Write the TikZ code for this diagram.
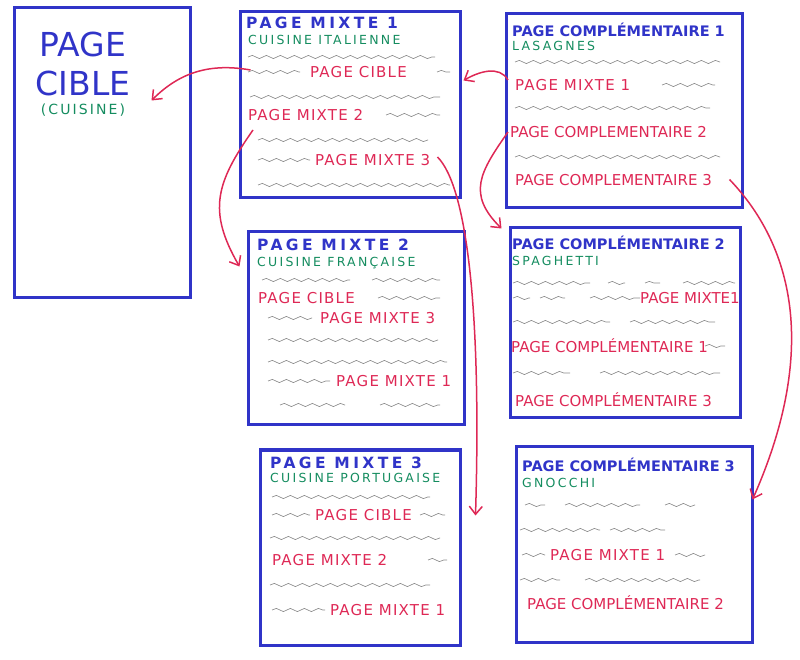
\documentclass[tikz,border=0pt]{standalone}
\usepackage{fontspec}
\setmainfont{DejaVu Sans}
\usepackage{tikz}
\usetikzlibrary{arrows.meta,positioning,calc,decorations.pathmorphing}
\definecolor{pgblue}{RGB}{48,52,200}
\definecolor{pggreen}{RGB}{20,140,95}
\definecolor{pgred}{RGB}{222,40,85}
\definecolor{pggrey}{RGB}{140,140,140}
\tikzstyle{pagebox} = [rectangle, draw=pgblue, line width=3pt, inner sep=0pt]
\tikzstyle{pagetitle} = [anchor=west, inner sep=0pt, text=pgblue, font=\bfseries\fontsize{14.5}{17}\selectfont]
\tikzstyle{mixtitle} = [pagetitle, font=\bfseries\fontsize{15.5}{17}\selectfont\addfontfeature{LetterSpace=22}]
\tikzstyle{topic} = [anchor=west, inner sep=0pt, text=pggreen, font=\fontsize{12.5}{14}\selectfont\addfontfeature{LetterSpace=18}]
\tikzstyle{linkref} = [anchor=west, inner sep=0pt, text=pgred, font=\fontsize{15}{17}\selectfont]
\tikzstyle{widelink} = [linkref, font=\fontsize{15}{17}\selectfont\addfontfeature{LetterSpace=8}]
\tikzstyle{wave} = [draw=pggrey, line width=0.65pt, decorate, decoration={snake, amplitude=1.6pt, segment length=14pt}]
\tikzstyle{linkarrow} = [line width=1.5pt, ->, >={Straight Barb[length=8pt,width=13pt]}, color=pgred]

\begin{document}
\begin{tikzpicture}[x=1pt, y=1pt]
\useasboundingbox (0,0) rectangle (800,659);

% target page
\node (cible) [pagebox, minimum width=176, minimum height=290] at (102,506) {};
\node (cibletitle) [align=center, inner sep=0pt, text=pgblue, font=\fontsize{33}{39}\selectfont] at (83,595) {PAGE\\CIBLE};
\node (ciblesub) [topic, anchor=north, below=8pt of cibletitle, font=\fontsize{14}{16}\selectfont\addfontfeature{LetterSpace=15}] {(CUISINE)};

% mixed pages
\node (m1) [pagebox, minimum width=220, minimum height=186] at (350,554) {};
\node (m1title) [mixtitle] at (246,636) {PAGE MIXTE 1};
\node (m1sub) [topic] at (248,619) {CUISINE ITALIENNE};
\draw[wave] (248,602) -- (435,602);
\draw[wave] (248,587) -- (300,587);
\node (m1cible) [widelink] at (310,587) {PAGE CIBLE};
\draw[wave] (437,587) -- (450,587);
\draw[wave] (250,562) -- (440,562);
\node (m1mixte2) [widelink] at (248,544) {PAGE MIXTE 2};
\draw[wave] (386,544) -- (440,544);
\draw[wave] (258,519) -- (428,519);
\draw[wave] (258,499) -- (310,499);
\node (m1mixte3) [widelink] at (315,499) {PAGE MIXTE 3};
\draw[wave] (258,474) -- (450,474);

\node (m2) [pagebox, minimum width=216, minimum height=193] at (356,330.5) {};
\node (m2title) [mixtitle] at (257,414) {PAGE MIXTE 2};
\node (m2sub) [topic] at (257,396) {CUISINE FRANÇAISE};
\draw[wave] (262,379) -- (350,379);
\draw[wave] (372,379) -- (440,379);
\node (m2cible) [widelink] at (258,361) {PAGE CIBLE};
\draw[wave] (378,361) -- (440,361);
\draw[wave] (268,341) -- (312,341);
\node (m2mixte3) [widelink] at (320,341) {PAGE MIXTE 3};
\draw[wave] (268,319) -- (438,319);
\draw[wave] (268,297) -- (447,297);
\draw[wave] (268,278) -- (330,278);
\node (m2mixte1) [widelink] at (336,278) {PAGE MIXTE 1};
\draw[wave] (280,254) -- (345,254);
\draw[wave] (380,254) -- (440,254);

\node (m3) [pagebox, minimum width=200, minimum height=195] at (360,111.5) {};
\node (m3title) [mixtitle] at (270,196) {PAGE MIXTE 3};
\node (m3sub) [topic] at (270,181) {CUISINE PORTUGAISE};
\draw[wave] (272,162) -- (430,162);
\draw[wave] (272,144) -- (310,144);
\node (m3cible) [widelink] at (315,144) {PAGE CIBLE};
\draw[wave] (420,144) -- (445,144);
\draw[wave] (270,121) -- (440,121);
\node (m3mixte2) [widelink] at (272,99) {PAGE MIXTE 2};
\draw[wave] (428,99) -- (447,99);
\draw[wave] (270,74) -- (430,74);
\draw[wave] (272,49) -- (325,49);
\node (m3mixte1) [widelink] at (330,49) {PAGE MIXTE 1};

% complementary pages
\node (c1) [pagebox, minimum width=236, minimum height=194] at (624,548) {};
\node (c1title) [pagetitle] at (512,629) {PAGE COMPLÉMENTAIRE 1};
\node (c1sub) [topic] at (512,613) {LASAGNES};
\draw[wave] (515,597) -- (720,597);
\node (c1mixte1) [widelink] at (515,574) {PAGE MIXTE 1};
\draw[wave] (662,574) -- (715,574);
\draw[wave] (515,551) -- (710,551);
\node (c1compl2) [linkref] at (510,527) {PAGE COMPLEMENTAIRE 2};
\draw[wave] (515,502) -- (720,502);
\node (c1compl3) [linkref] at (515,479) {PAGE COMPLEMENTAIRE 3};

\node (c2) [pagebox, minimum width=230, minimum height=190] at (625,336) {};
\node (c2title) [pagetitle] at (512,416) {PAGE COMPLÉMENTAIRE 2};
\node (c2sub) [topic] at (512,398) {SPAGHETTI};
\draw[wave] (513,376) -- (590,376);
\draw[wave] (608,376) -- (625,376);
\draw[wave] (645,376) -- (660,376);
\draw[wave] (683,376) -- (735,376);
\draw[wave] (513,361) -- (530,361);
\draw[wave] (540,361) -- (565,361);
\draw[wave] (590,361) -- (640,361);
\node (c2mixte1) [linkref] at (640,361) {PAGE MIXTE1};
\draw[wave] (513,337) -- (610,337);
\draw[wave] (630,337) -- (715,337);
\node (c2compl1) [linkref] at (511,313) {PAGE COMPLÉMENTAIRE 1};
\draw[wave] (705,313) -- (725,313);
\draw[wave] (513,286) -- (570,286);
\draw[wave] (600,286) -- (720,286);
\node (c2compl3) [linkref] at (515,259) {PAGE COMPLÉMENTAIRE 3};

\node (c3) [pagebox, minimum width=236, minimum height=195] at (634,114.5) {};
\node (c3title) [pagetitle] at (522,194) {PAGE COMPLÉMENTAIRE 3};
\node (c3sub) [topic] at (522,176) {GNOCCHI};
\draw[wave] (525,154) -- (545,154);
\draw[wave] (565,154) -- (640,154);
\draw[wave] (665,154) -- (695,154);
\draw[wave] (520,129) -- (600,129);
\draw[wave] (610,129) -- (665,129);
\draw[wave] (522,104) -- (545,104);
\node (c3mixte1) [widelink] at (550,104) {PAGE MIXTE 1};
\draw[wave] (675,104) -- (705,104);
\draw[wave] (520,79) -- (560,79);
\draw[wave] (585,79) -- (700,79);
\node (c3compl2) [linkref] at (527,56) {PAGE COMPLÉMENTAIRE 2};

% links
\draw[linkarrow] ($(m1.west |- m1cible.west)+(12,2)$) to[out=170, in=45] ($(cible.north east)+(-40,-94)$);
\draw[linkarrow] ($(m1mixte2.west)+(5,-15)$) to[out=235, in=120, looseness=1.2] ($(m2.north west)+(-7,-36)$);
\draw[linkarrow] ($(m1mixte3.east)+(7,3)$) .. controls +(30,-30) and +(6,200) .. ($(m3.north east)+(14,-67)$);
\draw[linkarrow] ($(c1mixte1.west)+(-7,5)$) to[out=120, in=30] ($(m1.north east)+(2,-70)$);
\draw[linkarrow] ($(c1compl2.west)+(-2,0)$) to[out=235, in=135, looseness=1.3] ($(c2.north west)+(-7,-2)$);
\draw[linkarrow] ($(c1.south east)+(-14,30)$) .. controls +(67,-70) and +(64,144) .. ($(c3.north east)+(-1,-54)$);
\end{tikzpicture}
\end{document}
